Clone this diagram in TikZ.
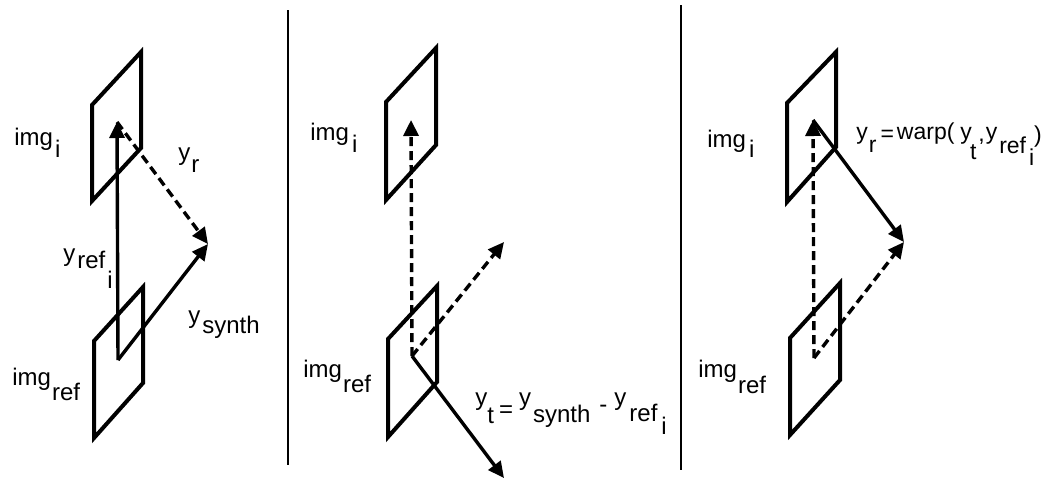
\documentclass[tikz,border=0pt]{standalone}
\usepackage{fontspec}
\setmainfont{Liberation Sans}
\usetikzlibrary{arrows.meta}
\newcommand{\dn}[2]{\raisebox{-#1}{#2}}
\begin{document}
\begin{tikzpicture}[x=0.5pt,y=-0.5pt,
  font=\fontsize{12}{14}\selectfont,
  box/.style={line width=2pt,line join=miter},
  vec/.style={line width=1.7pt,-{Triangle[length=8pt,width=7.5pt]}},
  dvec/.style={vec,dash pattern=on 4.5pt off 2.5pt},
  lbl/.style={anchor=base west,inner sep=0pt}]
\useasboundingbox (0,0) rectangle (1045,483);
% separators
\draw[line width=0.6pt] (288,10)--(288,465);
\draw[line width=0.6pt] (681,5)--(681,470);
% panel 1
\draw[box] (92,105)--(141,52)--(141,148)--(92,201)--cycle;
\draw[box] (94,341)--(143,287)--(143,383)--(94,438)--cycle;
\coordinate (org1) at (118,360);
\coordinate (top1) at (117,122);
\coordinate (pt1) at (208,244);
\draw[vec] (org1)--(top1);
\draw[vec] (org1)--(pt1);
\draw[dvec] (top1)--(pt1);
\node[lbl] (imgi1) at (14,145) {img\kern1pt\dn{6pt}{i}};
\node[lbl] (imgref1) at (12,385) {img\kern0.5pt\dn{7.5pt}{ref}};
\node[lbl] (yr1) at (178,160) {y\kern0.5pt\dn{6pt}{r}};
\node[lbl] (yref1) at (63,261) {y\kern1pt\dn{3.5pt}{ref\kern1pt\dn{10pt}{i}}};
\node[lbl] (ysyn1) at (188,323) {y\kern1pt\dn{5pt}{synth}};
% panel 2
\draw[box] (386,102)--(436,48)--(436,145)--(386,200)--cycle;
\draw[box] (388,339)--(437,286)--(437,382)--(388,437)--cycle;
\coordinate (org2) at (412,356);
\coordinate (top2) at (411,120);
\coordinate (up2) at (504,242);
\coordinate (low2) at (504,478);
\draw[dvec] (org2)--(top2);
\draw[dvec] (org2)--(up2);
\draw[vec] (org2)--(low2);
\node[lbl] (imgi2) at (310,140) {img\kern1.5pt\dn{6pt}{i}};
\node[lbl] (imgref2) at (303,377) {img\kern0.5pt\dn{7.5pt}{ref}};
\node[lbl] (yt2) at (475,405) {y\dn{9pt}{t}\kern2.5pt\dn{6pt}{=}\kern3pt y\kern1pt\dn{8.5pt}{synth}\kern4.5pt\dn{3.5pt}{-}\kern3.5pt y\kern1.5pt\dn{8pt}{ref\kern2pt\dn{6.5pt}{i}}};
% panel 3
\draw[box] (787,103)--(836,52)--(836,147)--(787,202)--cycle;
\draw[box] (790,338)--(840,283)--(840,380)--(790,435)--cycle;
\coordinate (org3) at (814,358);
\coordinate (top3) at (813,120);
\coordinate (pt3) at (904,242);
\draw[dvec] (org3)--(top3);
\draw[vec] (top3)--(pt3);
\draw[dvec] (org3)--(pt3);
\node[lbl] (imgi3) at (707,147) {img\kern1.5pt\dn{5pt}{i}};
\node[lbl] (imgref3) at (698,377) {img\kern0.5pt\dn{8pt}{ref}};
\node[lbl,font=\fontsize{11.5}{13}\selectfont] (yr3) at (856,139) {y\kern0.5pt\dn{6.5pt}{r}\kern2pt\dn{1pt}{=}\kern1.5pt warp(\kern3pt y\kern-1pt\dn{10pt}{t}\kern1pt\dn{1pt}{,}\kern0.5pt y\kern1pt\dn{7pt}{ref\kern1.5pt\dn{6pt}{i}}\dn{1.5pt}{)}};
\end{tikzpicture}
\end{document}
